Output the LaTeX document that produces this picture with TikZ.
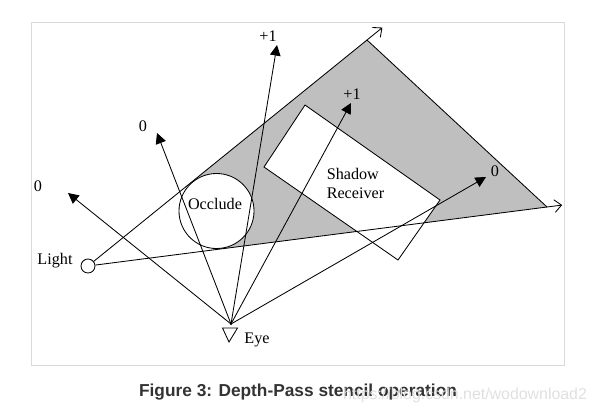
\documentclass[tikz,border=0pt]{standalone}
\usepackage{fontspec}
\setmainfont{Liberation Serif}
\newfontfamily\capfont{Liberation Sans}
\usetikzlibrary{arrows.meta, calc}

\begin{document}
\begin{tikzpicture}[x = 0.025cm, y = -0.025cm, line width = 0.6pt,
                        font = \fontsize{11.5}{13.5}\selectfont,
                        ray/.style = {-{Triangle[length = 7.5pt, width = 7.5pt]}},
                        edge/.style = {-{Straight Barb[length = 5pt, width = 9pt]}},
                        blob/.style = {circle, draw, fill = white, inner sep = 0pt},
                        txt/.style = {inner sep = 0pt}]
      \useasboundingbox (0, 0) rectangle (596, 417);
      \draw [black!15, line width = 0.7pt] (31, 22) rectangle (564, 365);
      \coordinate (f1) at (367, 40);
      \coordinate (f2) at (547, 207);
      \coordinate (e) at (231, 324);
      \fill [black!25] (192.6, 181.25) -- (f1) -- (f2) -- (221.55, 248.83) -- (216.5, 211) -- cycle;
      \draw [fill = white] (305, 105) -- (440, 200) -- (398, 260) -- (264, 167) -- cycle;
      \node [blob, minimum size = 1.875cm] (occ) at (216.5, 211){};
      \node [blob, minimum size = 0.35cm] (light) at (88, 266){};
      \node [txt] (occl) at (215, 204){Occlude};
      \node [txt, align = left] (recv) at (355.5, 183.5){Shadow\\Receiver};
      \node [txt] (lightl) at (55, 261){Light};
      \node [txt] (eyel) at (257, 340){Eye};
      \draw [edge] (light) -- ($(light)!1.055!(f1)$);
      \draw [edge] (light) -- ($(light)!1.033!(f2)$);
      \draw (f1) -- (f2);
      \draw (222.5, 328) -- (237.5, 328) -- (229, 342) -- cycle;
      \fill (e) circle (1.2);
      \coordinate (t1) at (68, 193);
      \coordinate (t2) at (157, 133);
      \coordinate (t3) at (277, 45);
      \coordinate (t4) at (351, 103);
      \coordinate (t5) at (486, 177);
      \draw [ray] (e) -- (t1);
      \draw [ray] (e) -- (t2);
      \draw [ray] (e) -- (t3);
      \draw [ray] (e) -- (t4);
      \draw [ray] (e) -- (t5);
      \node [txt] (l1) at (38, 186){0};
      \node [txt] (l2) at (143, 126){0};
      \node [txt] (l3) at (268, 36.5){+1};
      \node [txt] (l4) at (352, 94){+1};
      \node [txt] (l5) at (495, 171){0};
      \node [txt, font = \capfont\bfseries\fontsize{12.3}{14}\selectfont, text = black!80] (cap) at (298, 392){Figure 3: Depth-Pass stencil operation};
      \node [txt, font = \capfont\fontsize{11.3}{13}\selectfont, text = black!12] (mark) at (465, 395){https://blog.csdn.net/wodownload2};
    \end{tikzpicture}
\end{document}
